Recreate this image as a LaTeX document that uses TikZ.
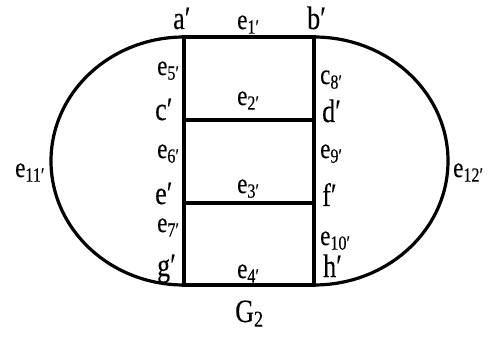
\documentclass[tikz,border=0pt]{standalone}
\usepackage{fontspec}
\usepackage{graphicx}
\setmainfont{Liberation Serif}
\newfontfamily\labelfont{Liberation Serif}[FakeBold=0.3]
\usetikzlibrary{positioning}
\newcommand{\tall}[1]{\scalebox{1}[1.25]{#1}}
\newcommand{\vx}[1]{\tall{#1′}}
\newcommand{\ed}[2]{\tall{#1\textsubscript{#2′}}}
\tikzset{
  vertex/.style={
    coordinate
  },
  graphedge/.style={
    line width=3.2pt,
    draw=black,
    line cap=rect
  },
  vlabel/.style={
    anchor=base west,
    inner sep=0pt,
    font=\labelfont\fontsize{26}{26}\selectfont
  },
  elabel/.style={
    anchor=base west,
    inner sep=0pt,
    font=\labelfont\fontsize{23}{23}\selectfont
  }
}

\begin{document}
\begin{tikzpicture}[x=1pt, y=-1pt]
  \useasboundingbox (0,0) rectangle (504,342);
  % vertices of the ladder
  \node[vertex] (a) at (184,37) {};
  \node[vertex] (b) at (314,37) {};
  \node[vertex] (c) at (184,120) {};
  \node[vertex] (d) at (314,120) {};
  \node[vertex] (e) at (184,203) {};
  \node[vertex] (f) at (314,203) {};
  \node[vertex] (g) at (184,285) {};
  \node[vertex] (h) at (314,285) {};
  % rungs and rails
  \draw[graphedge] (a) -- (b);
  \draw[graphedge] (c) -- (d);
  \draw[graphedge] (e) -- (f);
  \draw[graphedge] (g) -- (h);
  \draw[graphedge] (a) -- (c);
  \draw[graphedge] (c) -- (e);
  \draw[graphedge] (e) -- (g);
  \draw[graphedge] (b) -- (d);
  \draw[graphedge] (d) -- (f);
  \draw[graphedge] (f) -- (h);
  % outer arcs
  \draw[graphedge, line cap=butt] (a) arc[start angle=270, end angle=90,
    x radius=133, y radius=124];
  \draw[graphedge, line cap=butt] (b) arc[start angle=270, end angle=450,
    x radius=134, y radius=124];
  % vertex labels
  \node[vlabel] (la) at (173,29) {\vx{a}};
  \node[vlabel] (lb) at (307,29) {\vx{b}};
  \node[vlabel] (lc) at (155,120) {\vx{c}};
  \node[vlabel] (ld) at (322,122) {\vx{d}};
  \node[vlabel] (le) at (155,204) {\vx{e}};
  \node[vlabel] (lf) at (322,206) {\vx{f}};
  \node[vlabel] (lg) at (157,276) {\vx{g}};
  \node[vlabel] (lh) at (323,277) {\vx{h}};
  % edge labels
  \node[elabel] (e1) at (237,29) {\ed{e}{1}};
  \node[elabel] (e2) at (237,105) {\ed{e}{2}};
  \node[elabel] (e3) at (237,193) {\ed{e}{3}};
  \node[elabel] (e4) at (237,278) {\ed{e}{4}};
  \node[elabel] (e5) at (157,75) {\ed{e}{5}};
  \node[elabel] (e6) at (157,158) {\ed{e}{6}};
  \node[elabel] (e7) at (157,232) {\ed{e}{7}};
  \node[elabel] (e8) at (320,84) {\ed{c}{8}};
  \node[elabel] (e9) at (320,158) {\ed{e}{9}};
  \node[elabel] (e10) at (320,245) {\ed{e}{10}};
  \node[elabel] (e11) at (15,177) {\ed{e}{11}};
  \node[elabel] (e12) at (453,177) {\ed{e}{12}};
  % caption
  \node[vlabel] (cap) at (235,322) {\tall{G\textsubscript{2}}};
\end{tikzpicture}
\end{document}
